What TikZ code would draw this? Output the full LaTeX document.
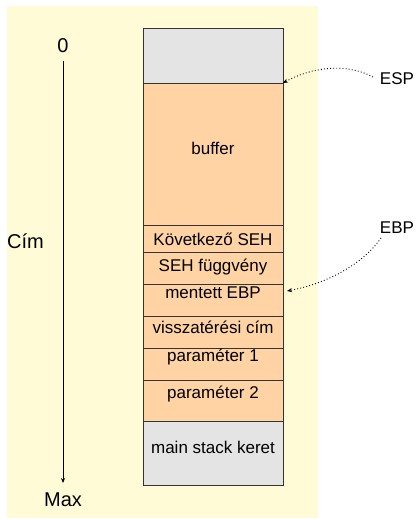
\documentclass[tikz,border=0pt]{standalone}
\usepackage{fontspec}
\setmainfont{Liberation Sans}
\usetikzlibrary{arrows.meta}
\definecolor{bgyellow}{HTML}{FFFBD6}
\definecolor{cellorange}{HTML}{FFD3A3}
\definecolor{cellgray}{HTML}{E4E4E4}
\definecolor{edge}{HTML}{333333}
\begin{document}
\begin{tikzpicture}[x=1pt,y=-1pt,
  cell/.style={draw=edge, line width=0.9pt, minimum width=140pt, inner sep=0pt, outer sep=0pt, anchor=north west},
  cello/.style={cell, fill=cellorange},
  cellg/.style={cell, fill=cellgray},
  lbl/.style={font=\fontsize{17}{19}\selectfont, inner sep=0pt},
  axlbl/.style={font=\fontsize{20}{22}\selectfont, inner sep=0pt},
  ptr/.style={line width=0.9pt, dash pattern=on 0.9pt off 2.2pt, -{Stealth[length=5pt,width=4pt]}}]
\useasboundingbox (0,0) rectangle (417,519);
\fill[bgyellow] (7,6) rectangle (318,518);
% stack cells
\node[cellg, minimum height=55pt] (top) at (143,28) {};
\node[cello, minimum height=142pt] (buf) at (143,83) {};
\node[cello, minimum height=27pt] (seh) at (143,225) {};
\node[cello, minimum height=32pt] (sehf) at (143,252) {};
\node[cello, minimum height=32pt] (ebp) at (143,284) {};
\node[cello, minimum height=32pt] (ret) at (143,316) {};
\node[cello, minimum height=32pt] (p1) at (143,348) {};
\node[cello, minimum height=41pt] (p2) at (143,380) {};
\node[cellg, minimum height=64pt] (main) at (143,421) {};
% labels
\node[lbl] (tbuf) at (213,148) {buffer};
\node[lbl] (tseh) at (213,239) {Következő SEH};
\node[lbl] (tsehf) at (213,267) {SEH függvény};
\node[lbl] (tebp) at (213,293) {mentett EBP};
\node[lbl] (tret) at (213,327) {visszatérési cím};
\node[lbl] (tp1) at (213,357) {paraméter 1};
\node[lbl] (tp2) at (213,394) {paraméter 2};
\node[lbl] (tmain) at (213,447) {main stack keret};
% axis
\node[axlbl] (zero) at (63,46) {0};
\node[axlbl] (max) at (63,500) {Max};
\node[axlbl, anchor=west] (cim) at (7,241) {Cím};
\coordinate (axtop) at (63,61);
\coordinate (axbot) at (63,483);
\draw[line width=0.8pt, -{Stealth[length=5pt,width=4pt]}] (axtop) -- (axbot);
% pointers
\node[lbl] (esp) at (397,79) {ESP};
\node[lbl] (ebpl) at (397,228) {EBP};
\coordinate (espstart) at (373,77);
\coordinate (ebpstart) at (381,238);
\draw[ptr] (espstart) .. controls (345,62) and (310,68) .. (buf.north east);
\draw[ptr] (ebpstart) .. controls (360,268) and (320,285) .. ([xshift=4pt,yshift=-7pt]ebp.north east);
\end{tikzpicture}
\end{document}
